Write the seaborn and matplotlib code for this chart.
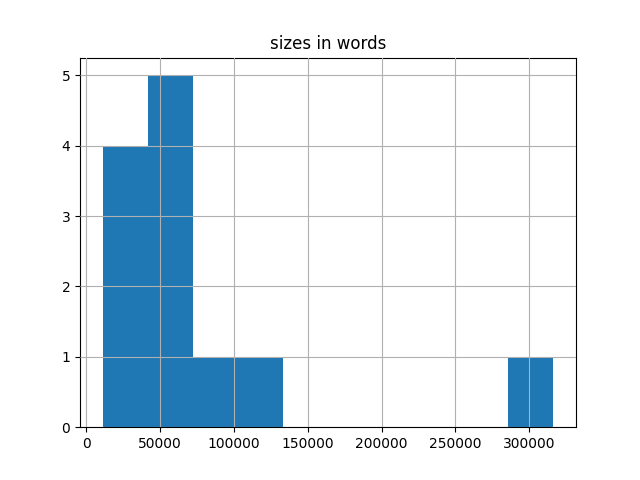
import matplotlib
matplotlib.use("Agg")
import matplotlib.pyplot as plt
import seaborn as sns
import pandas as pd

# word counts of the documents (estimated from the histogram)
sizes_in_words = [11000, 18000, 27000, 35000,
                  45000, 52000, 58000, 63000, 69000,
                  85000, 120000, 316400]

df = pd.DataFrame({"sizes in words": sizes_in_words})

fig, ax = plt.subplots(figsize=(6.4, 4.8), dpi=100)
sns.histplot(data=df, x="sizes in words", bins=10, color="#1f77b4",
             alpha=1, linewidth=0, ax=ax, zorder=2)
ax.grid(True, color="#b0b0b0", linewidth=0.8, zorder=3)
ax.set_axisbelow(False)
ax.set_title("sizes in words")
ax.set_xlabel("")
ax.set_ylabel("")
fig.savefig("out.png", dpi=100)
